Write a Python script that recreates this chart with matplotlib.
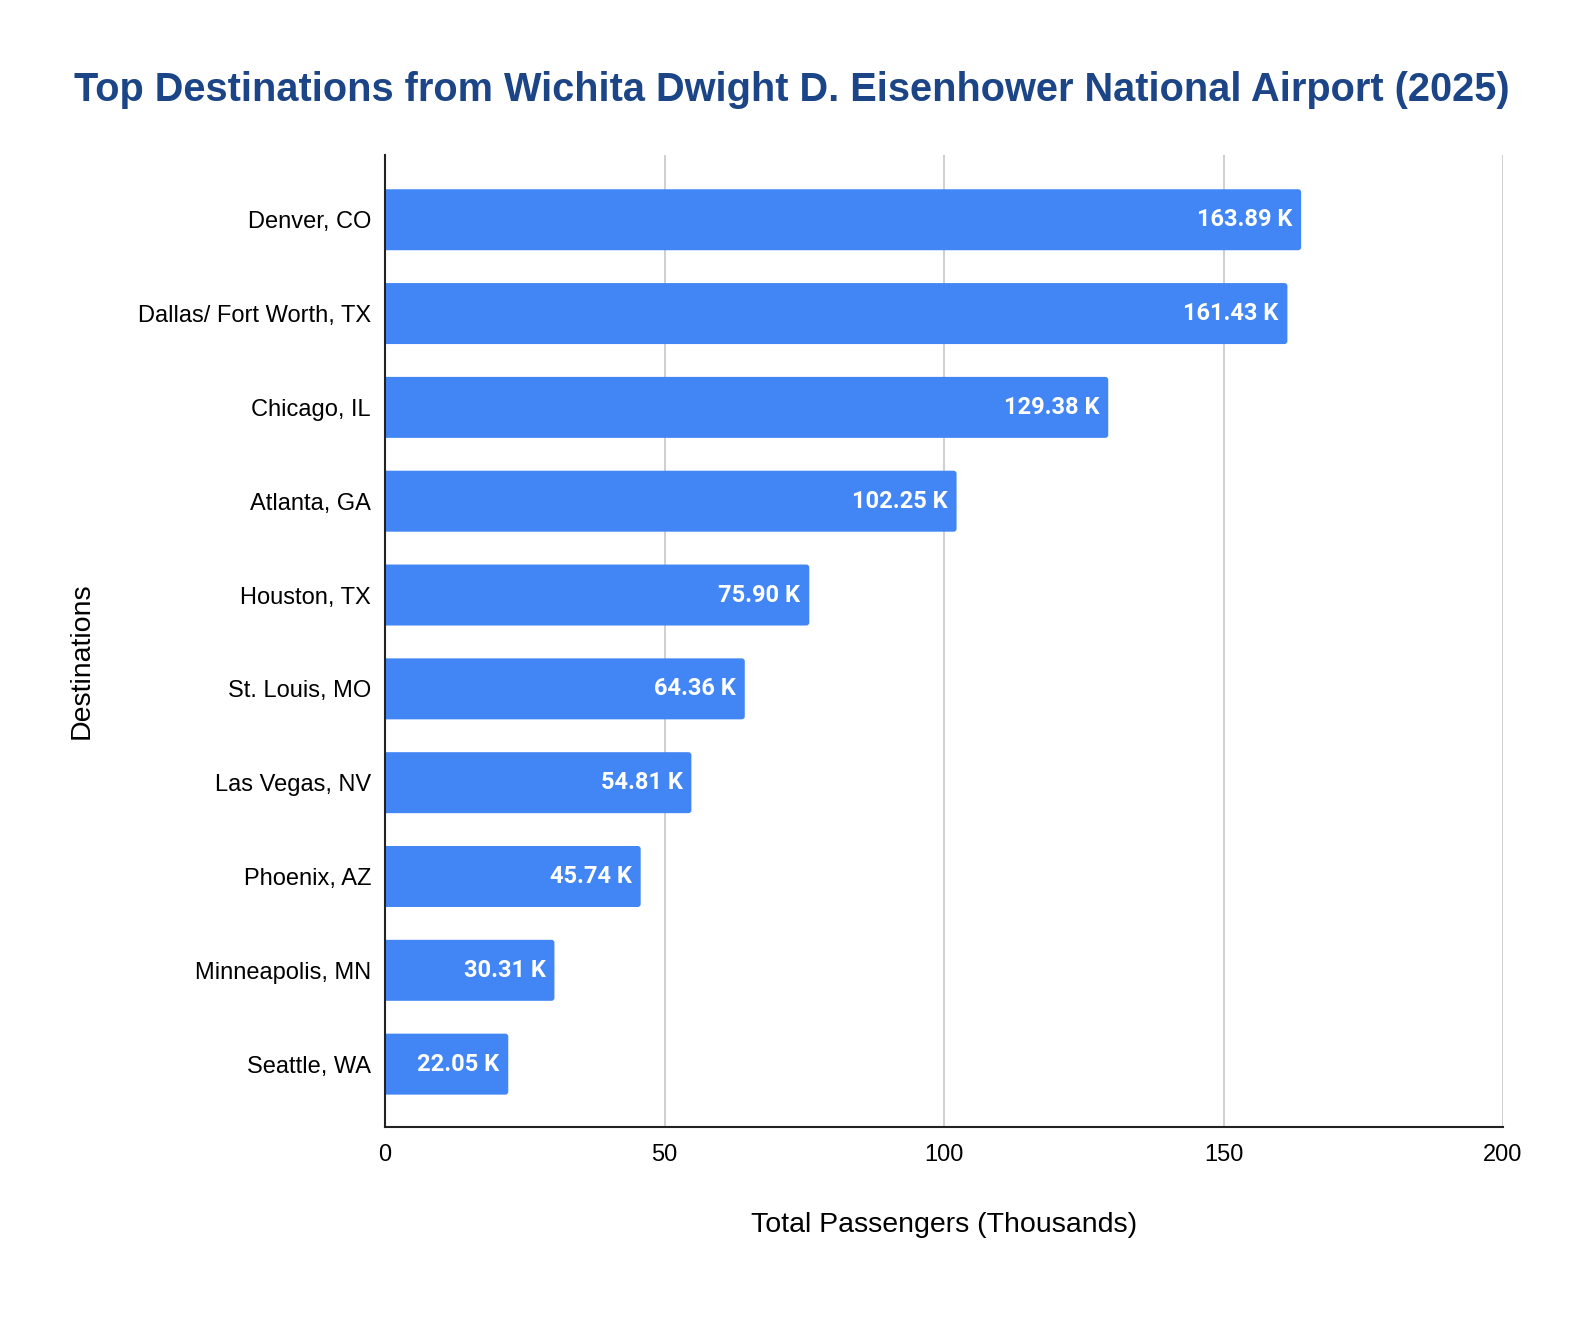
import numpy as np
import matplotlib
matplotlib.use('Agg')
import matplotlib.pyplot as plt
from matplotlib.patches import FancyBboxPatch

destinations = ['Denver, CO', 'Dallas/ Fort Worth, TX', 'Chicago, IL', 'Atlanta, GA',
                'Houston, TX', 'St. Louis, MO', 'Las Vegas, NV', 'Phoenix, AZ',
                'Minneapolis, MN', 'Seattle, WA']
passengers = [163.89, 161.43, 129.38, 102.25, 75.90, 64.36, 54.81, 45.74, 30.31, 22.05]
x_ticks = [0, 50, 100, 150, 200]

plt.rcParams['font.family'] = ['Liberation Sans', 'DejaVu Sans']

W, H = 1584, 1318
L, R, T, B = 385, 1503, 155, 1127
fig = plt.figure(figsize=(W / 100, H / 100), dpi=100)
ax = fig.add_axes([L / W, 1 - B / H, (R - L) / W, (B - T) / H])

y = np.arange(len(destinations))
ylim = (len(destinations) - 1 + 0.67, -0.69)
bars = ax.barh(y, passengers, height=0.65, color='#4285f4', zorder=3)

# rounded right corners (~3 px); left end pushed past the clip so it stays square
px_x = 200 / (R - L)
px_y = (ylim[0] - ylim[1]) / (B - T)
for b in bars:
    b.set_visible(False)
    x0, y0, w, h = b.get_x(), b.get_y(), b.get_width(), b.get_height()
    p = FancyBboxPatch((x0 - 2, y0), w + 2, h,
                       boxstyle=f'round,pad=0,rounding_size={3 * px_x}',
                       mutation_aspect=px_y / px_x,
                       facecolor='#4285f4', edgecolor='none', zorder=3)
    ax.add_patch(p)

for b, v in zip(bars, passengers):
    ax.text(v - 1.6, b.get_y() + b.get_height() / 2, f'{v:.2f} K',
            ha='right', va='center', color='white', fontsize=17,
            fontweight='bold', family=['Roboto', 'DejaVu Sans'], zorder=4)

ax.set_xlim(0, 200)
ax.set_ylim(*ylim)
ax.set_yticks(y)
ax.set_yticklabels(destinations, fontsize=17)
ax.set_xticks(x_ticks)
ax.set_xticklabels([str(t) for t in x_ticks], fontsize=17)
ax.tick_params(axis='y', length=0, pad=10)
ax.tick_params(axis='x', length=0, pad=12)

ax.grid(axis='x', color='#cccccc', linewidth=1.3, zorder=0)
for s in ['top', 'right']:
    ax.spines[s].set_visible(False)
for s in ['left', 'bottom']:
    ax.spines[s].set_color('#222222')
    ax.spines[s].set_linewidth(1.5)
    ax.spines[s].set_zorder(5)

ax.set_xlabel('Total Passengers (Thousands)', fontsize=20.5, va='center')
ax.xaxis.set_label_coords(0.5, (B - 1225) / (B - T))
ax.set_ylabel('Destinations', fontsize=20.5, va='center')
ax.yaxis.set_label_coords((82 - L) / (R - L), (B - 661) / (B - T))

fig.text(0.5, 1 - 90 / H, 'Top Destinations from Wichita Dwight D. Eisenhower National Airport (2025)',
         ha='center', va='center', fontsize=28.6, fontweight='bold', color='#1c4587')

fig.savefig('out.png', dpi=100)
